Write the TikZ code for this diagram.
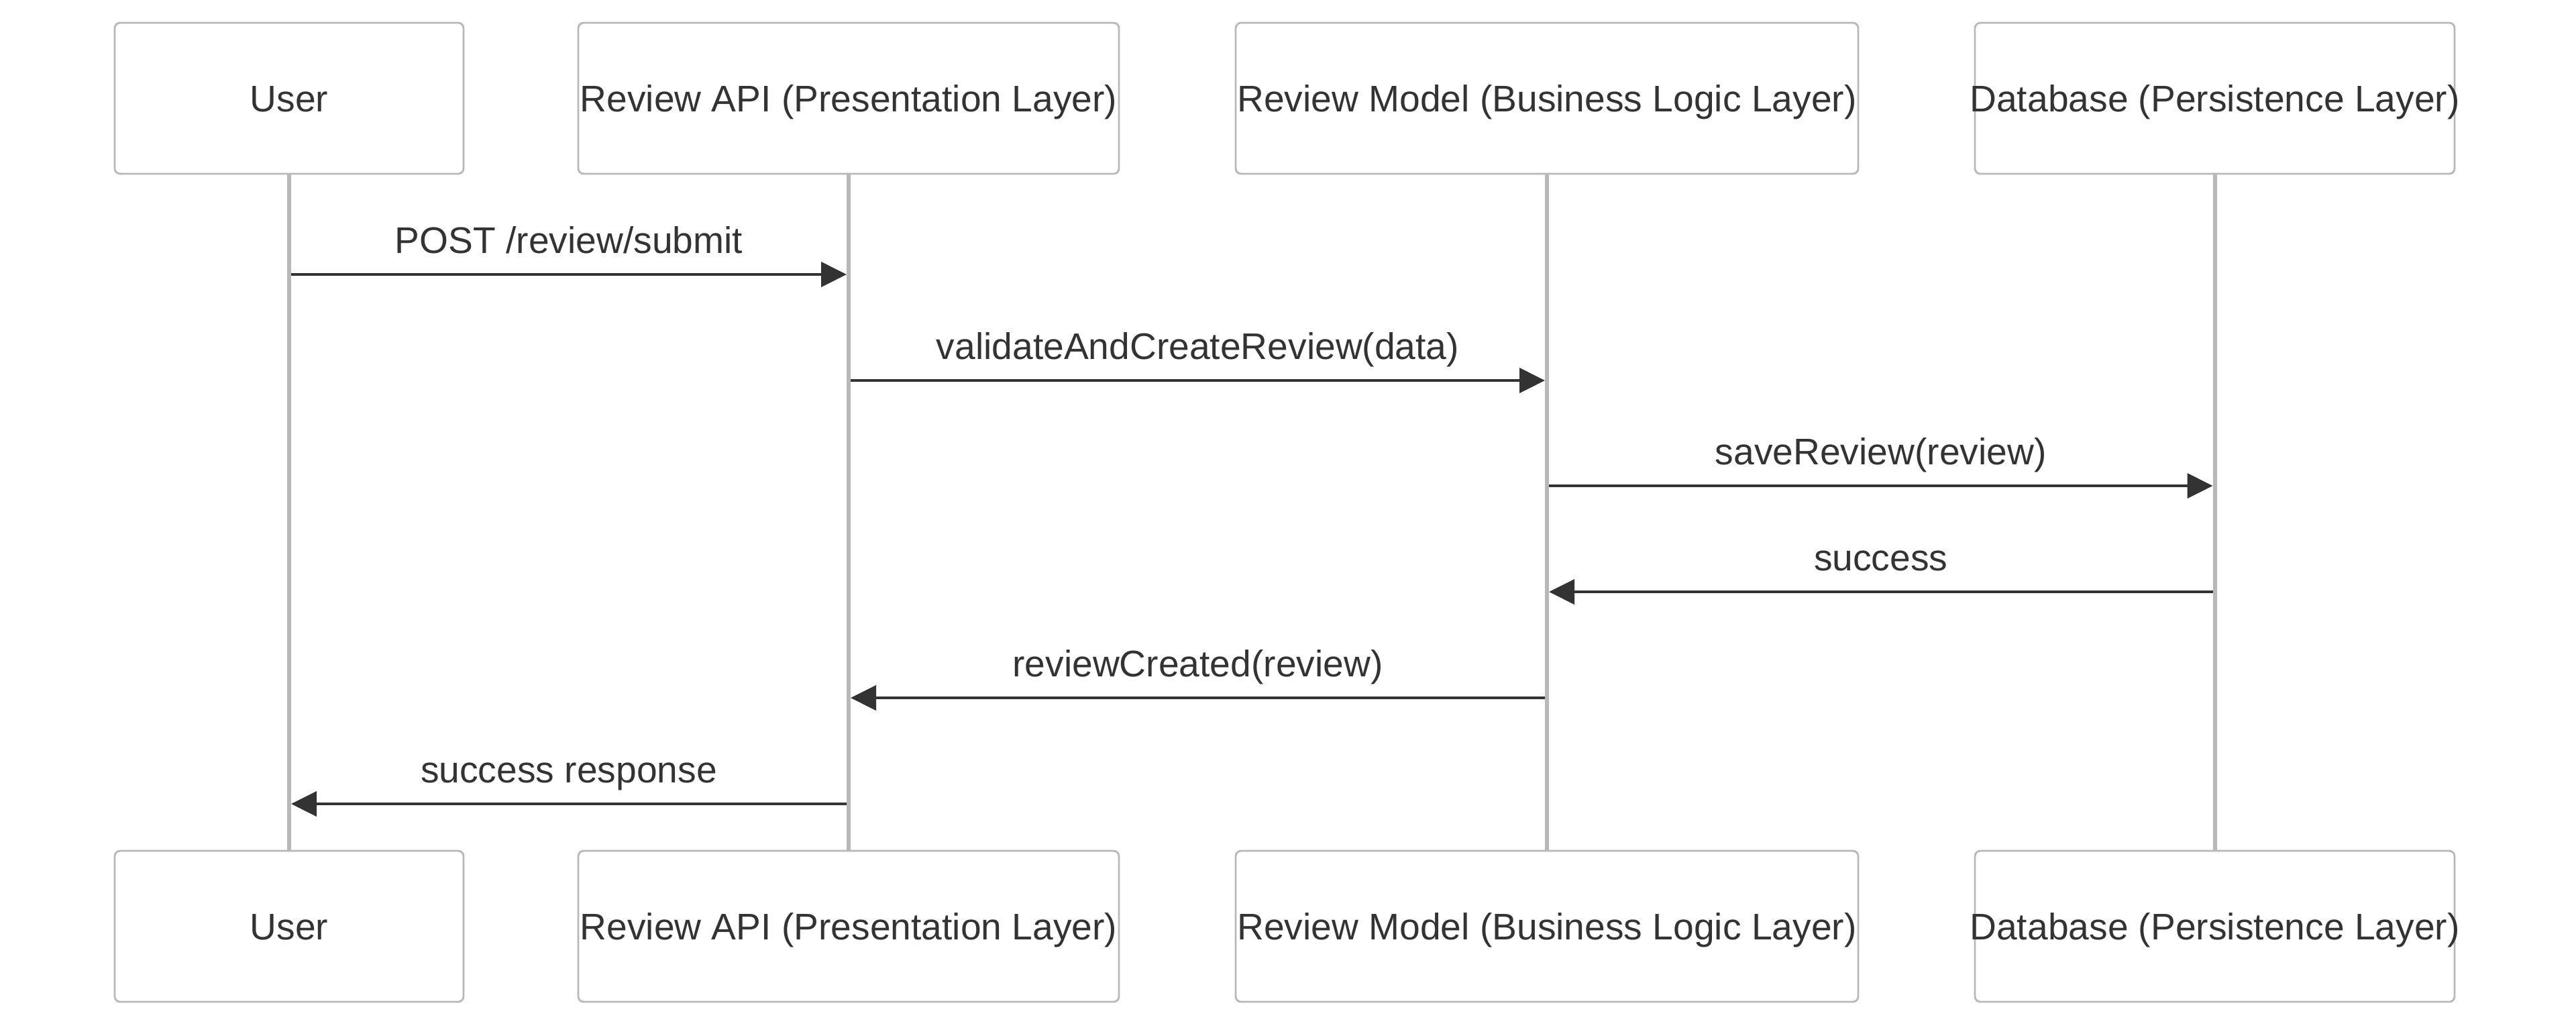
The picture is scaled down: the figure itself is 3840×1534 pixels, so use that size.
\documentclass[tikz,border=0pt]{standalone}
\usepackage{fontspec}
\setmainfont{Liberation Sans}
\usetikzlibrary{arrows.meta,calc}
\definecolor{boxgray}{HTML}{B8B8B8}
\definecolor{ink}{HTML}{333333}
\newcommand{\fitlabel}[1]{\makebox[0pt][c]{#1}}
\begin{document}
\begin{tikzpicture}[x=0.25pt,y=-0.25pt,
  actor/.style={draw=boxgray, line width=0.7pt, rounded corners=2pt, fill=white,
    minimum height=56.25pt, inner sep=0pt, font=\fontsize{13.8}{16}\selectfont,
    text=ink, text height=9.9pt, text depth=0pt},
  life/.style={draw=boxgray, line width=1.5pt},
  msg/.style={draw=ink, line width=1.2pt, -{Triangle[length=9.5pt,width=9.2pt]}},
  lbl/.style={font=\fontsize{13.8}{16}\selectfont, text=ink, anchor=base, inner sep=0pt}]
\fill[white] (0,0) rectangle (3840,1534);
\useasboundingbox (0,0) rectangle (3840,1534);
% actors top
\node[actor, minimum width=130pt]   (u1) at (431,146.5)  {\fitlabel{User}};
\node[actor, minimum width=201.5pt] (a1) at (1265,146.5) {\fitlabel{Review API (Presentation Layer)}};
\node[actor, minimum width=232pt]   (m1) at (2306,146.5) {\fitlabel{Review Model (Business Logic Layer)}};
\node[actor, minimum width=178.75pt](d1) at (3301.5,146.5) {\fitlabel{Database (Persistence Layer)}};
% actors bottom
\node[actor, minimum width=130pt]   (u2) at (431,1380.5)  {\fitlabel{User}};
\node[actor, minimum width=201.5pt] (a2) at (1265,1380.5) {\fitlabel{Review API (Presentation Layer)}};
\node[actor, minimum width=232pt]   (m2) at (2306,1380.5) {\fitlabel{Review Model (Business Logic Layer)}};
\node[actor, minimum width=178.75pt](d2) at (3301.5,1380.5) {\fitlabel{Database (Persistence Layer)}};
% lifelines
\draw[life] (u1.south) -- (u2.north);
\draw[life] (a1.south) -- (a2.north);
\draw[life] (m1.south) -- (m2.north);
\draw[life] (d1.south) -- (d2.north);
% message rows
\coordinate (r1) at (0,409);
\coordinate (r2) at (0,567);
\coordinate (r3) at (0,724);
\coordinate (r4) at (0,882);
\coordinate (r5) at (0,1040);
\coordinate (r6) at (0,1198);
% messages
\draw[msg] ([xshift=0.75pt]u1 |- r1) coordinate (s1) -- ([xshift=-0.75pt]a1 |- r1) coordinate (e1);
\node[lbl] (l1) at ($(s1)!0.5!(e1)+(0,-32)$) {POST /review/submit};
\draw[msg] ([xshift=0.75pt]a1 |- r2) coordinate (s2) -- ([xshift=-0.75pt]m1 |- r2) coordinate (e2);
\node[lbl] (l2) at ($(s2)!0.5!(e2)+(0,-32)$) {validateAndCreateReview(data)};
\draw[msg] ([xshift=0.75pt]m1 |- r3) coordinate (s3) -- ([xshift=-0.75pt]d1 |- r3) coordinate (e3);
\node[lbl] (l3) at ($(s3)!0.5!(e3)+(0,-32)$) {saveReview(review)};
\draw[msg] ([xshift=-0.75pt]d1 |- r4) coordinate (s4) -- ([xshift=0.75pt]m1 |- r4) coordinate (e4);
\node[lbl] (l4) at ($(s4)!0.5!(e4)+(0,-32)$) {success};
\draw[msg] ([xshift=-0.75pt]m1 |- r5) coordinate (s5) -- ([xshift=0.75pt]a1 |- r5) coordinate (e5);
\node[lbl] (l5) at ($(s5)!0.5!(e5)+(0,-32)$) {reviewCreated(review)};
\draw[msg] ([xshift=-0.75pt]a1 |- r6) coordinate (s6) -- ([xshift=0.75pt]u1 |- r6) coordinate (e6);
\node[lbl] (l6) at ($(s6)!0.5!(e6)+(0,-32)$) {success response};
\end{tikzpicture}
\end{document}
